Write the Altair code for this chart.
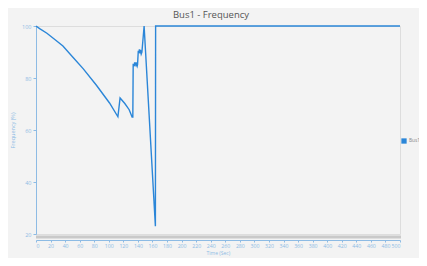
import altair as alt
import pandas as pd

time_s = [0, 5, 15, 25, 37, 51, 65, 83, 101, 112.5,
          115.5, 122, 128, 132, 133,
          133.5, 135, 135.5, 137, 137.5, 139, 139.5,
          140.5, 141.5, 142, 143, 143.5, 144.5, 145.5,
          148.5, 164, 164.3, 500]
freq_pct = [100, 99.0, 97.2, 95.0, 92.3, 87.9, 83.5, 77.2, 70.4, 65.1,
            72.3, 70.2, 67.8, 65.0, 65.0,
            85.5, 84.5, 86.0, 85.0, 86.0, 84.6, 85.2,
            90.5, 89.6, 91.0, 89.5, 90.8, 89.2, 90.0,
            100, 23, 100, 100]
series_name = "Bus1"

df = pd.DataFrame({"t": time_s, "f": freq_pct, "i": list(range(len(time_s))),
                   "s": [series_name] * len(time_s)})

W, H = 364, 208
axis_blue = "#8dbbe4"
line_blue = "#2b86d8"

line = alt.Chart(df).mark_line(strokeWidth=1.4, strokeJoin="miter").encode(
    x=alt.X("t:Q", scale=alt.Scale(domain=[0, 500], nice=False, zero=False),
            axis=alt.Axis(title="Time (Sec)", values=list(range(0, 501, 20)),
                          offset=6, grid=False, domainColor=axis_blue,
                          tickColor=axis_blue, tickSize=2, labelColor=axis_blue,
                          labelFontSize=5.2, titleFontSize=5, titleColor=axis_blue,
                          titleFontWeight="normal", titlePadding=2, labelPadding=1,
                          titleX=170, titleAnchor="start")),
    y=alt.Y("f:Q", scale=alt.Scale(domain=[20, 100], nice=False, zero=False),
            axis=alt.Axis(title="Frequency (%)", values=[20, 40, 60, 80, 100],
                          grid=False, domainColor=axis_blue, tickColor=axis_blue,
                          tickSize=3, labelColor=axis_blue, labelFontSize=5.5,
                          titleFontSize=5.5, titleColor=axis_blue,
                          titleFontWeight="normal", titlePadding=6)),
    order="i:Q",
    color=alt.Color("s:N", scale=alt.Scale(range=[line_blue]),
                    legend=alt.Legend(title=None, orient="none", legendX=W + 1,
                                      legendY=112, symbolType="square",
                                      symbolSize=28, symbolFillColor=line_blue,
                                      symbolStrokeColor=line_blue,
                                      symbolStrokeWidth=0, labelColor="#888888",
                                      labelFontSize=4.8, labelOffset=2)),
)

scroll = alt.Chart(pd.DataFrame({"a": [0]})).mark_rule(
    color="#c9c9c9", strokeWidth=3).encode(
    x=alt.value(0), x2=alt.value(W + 1), y=alt.value(H + 3))

chart = alt.layer(scroll, line).properties(
    width=W, height=H,
    title=alt.TitleParams("Bus1 - Frequency", fontSize=9.5, fontWeight="normal",
                          color="#555555", font="Open Sans", offset=4, dx=-7),
    background="#f3f3f3",
    padding={"left": 28, "top": 18, "right": 19, "bottom": 24},
    autosize=alt.AutoSizeParams(type="none"),
).configure_view(strokeWidth=0, stroke="transparent").configure(font="Open Sans")

chart.save("out.html", embed_options={"renderer": "svg", "actions": False})
